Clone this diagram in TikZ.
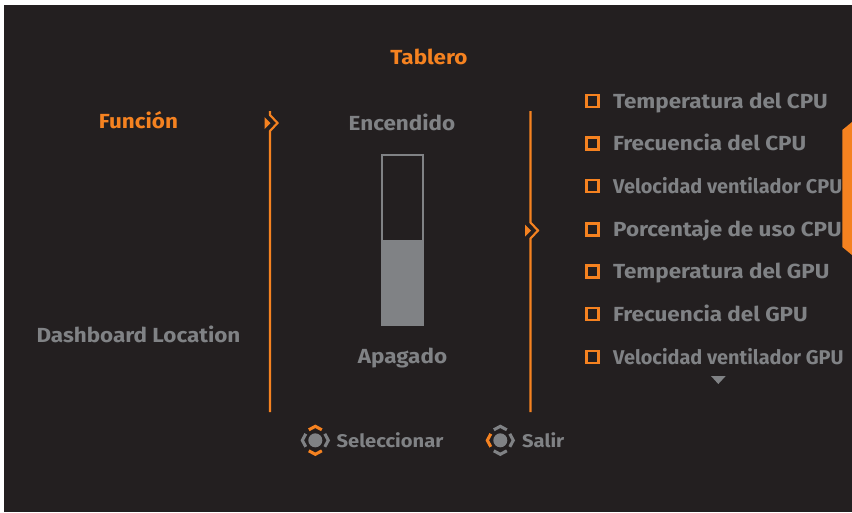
\documentclass[tikz,border=0pt]{standalone}
\usepackage{fontspec}
\setmainfont{Fira Sans}[BoldFeatures={FakeStretch=1.1}]
\newfontfamily\narfont{Fira Sans}
\definecolor{bgc}{HTML}{231F20}
\definecolor{org}{HTML}{F58220}
\definecolor{gry}{HTML}{808285}
\tikzset{
  lbl/.style={font=\bfseries\fontsize{20.4}{20}\selectfont,text=gry,inner sep=0pt,anchor=base},
  lblo/.style={lbl,text=org},
  itm/.style={lbl,anchor=base west},
  nar/.style={lbl,anchor=base west,font=\narfont\bfseries\fontsize{19.9}{20}\selectfont},
  foot/.style={lbl,anchor=base west,font=\bfseries\fontsize{18.3}{18}\selectfont},
  chk/.style={draw=org,line width=1.8pt,fill=none,minimum size=12pt,inner sep=0pt,shape=rectangle},
  rail/.style={draw=org,line width=1.6pt},
  tri/.style={fill=org},
  ar/.style={line width=2.3pt,line cap=butt,line join=miter},
}
\newcommand{\padicon}[4]{% x,y,vertical colour,left colour
  \begin{scope}[shift={(#1,#2)}]
    \fill[gry] (0,0) circle (7);
    \draw[ar,draw=#3] (-6.5,-10.5) -- (0,-14) -- (6.5,-10.5);
    \draw[ar,draw=#3] (-6.5,10.5) -- (0,14) -- (6.5,10.5);
    \draw[ar,draw=#4] (-9.5,-6.5) -- (-13,0) -- (-9.5,6.5);
    \draw[ar,draw=gry] (9.5,-6.5) -- (13,0) -- (9.5,6.5);
  \end{scope}}
\begin{document}
\begin{tikzpicture}[x=0.75pt,y=-0.75pt,every node/.append style={scale=0.75}]
\useasboundingbox (0,0) rectangle (852,512);
\fill[white] (0,0) rectangle (852,512);
\fill[bgc] (4,5) rectangle (852,512);
% tab
\fill[org] (852,122) -- (842.3,130) -- (842.3,247) -- (852,255) -- cycle;
% titles
\node[lblo] (titulo) at (429,64) {Tablero};
\node[lblo] (funcion) at (138.5,128) {Función};
\node[lbl] (dash) at (138.5,342) {Dashboard Location};
\node[lbl] (enc) at (402,130) {Encendido};
\node[lbl] (apa) at (402.5,363) {Apagado};
% rails
\coordinate (r1t) at (270,111);
\coordinate (r1b) at (270,412);
\coordinate (r2t) at (530.5,111);
\coordinate (r2b) at (530.5,412);
\draw[rail] (r1t) -- (270,115) -- (277.5,123) -- (270,131) -- (r1b);
\draw[rail] (r2t) -- (530.5,222.5) -- (538,230.5) -- (530.5,238.5) -- (r2b);
\fill[tri] (264.5,117) -- (270.5,123) -- (264.5,129) -- cycle;
\fill[tri] (525,224.5) -- (531,230.5) -- (525,236.5) -- cycle;
% slider
\fill[gry] (381.5,240) rectangle (424,326);
\draw[draw=gry,line width=1.7pt] (382,155.2) rectangle (423.3,325);
% items
\foreach \n/\y/\t in {a/101/Temperatura del CPU,b/143.5/Frecuencia del CPU,d/229.5/Porcentaje de uso CPU,e/271.5/Temperatura del GPU,f/314/Frecuencia del GPU}{
  \node[chk] (c\n) at (592.6,\y) {};
  \node[itm] (t\n) at (613,\y+7) {\t};
}
\node[chk] (cc) at (592.6,186) {};
\node[nar] (tc) at (613,193) {Velocidad ventilador CPU};
\node[chk] (cg) at (592.6,357) {};
\node[nar] (tg) at (613,364) {Velocidad ventilador GPU};
\fill[gry] (711,376) -- (725.7,376) -- (718.3,384) -- cycle;
% footer
\padicon{315.3}{440.3}{org}{gry}
\padicon{500.3}{440.3}{gry}{org}
\node[foot] (sel) at (336.5,447) {Seleccionar};
\node[foot] (sal) at (522,447) {Salir};
\end{tikzpicture}
\end{document}
